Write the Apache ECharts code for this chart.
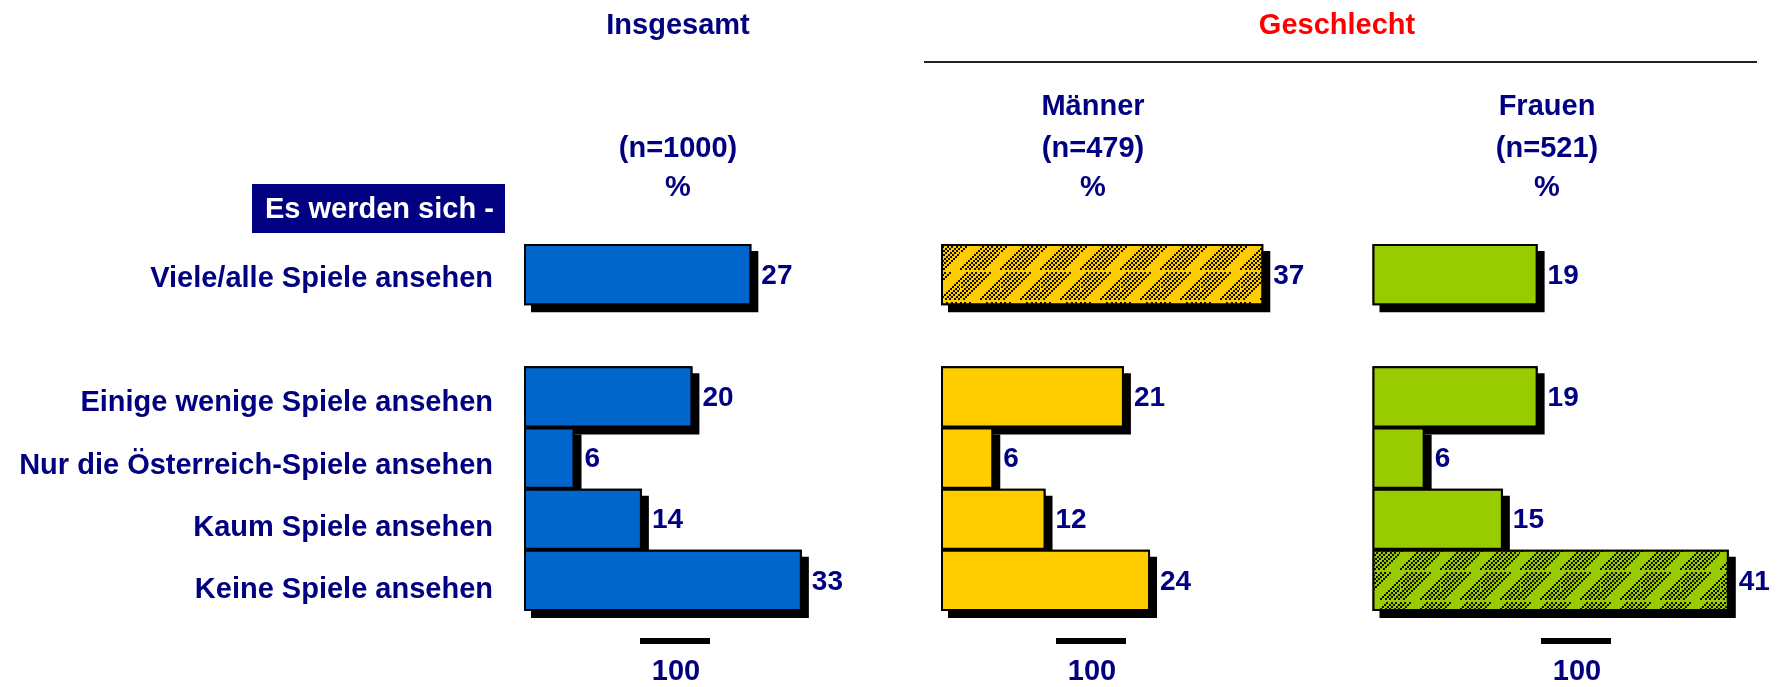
<!DOCTYPE html>
<html>
<head>
<meta charset="utf-8">
<script src="https://cdn.jsdelivr.net/npm/echarts@6/dist/echarts.min.js"></script>
<style>
  html, body { margin: 0; padding: 0; background: #ffffff; }
  #chart { width: 1778px; height: 687px; }
</style>
</head>
<body>
<div id="chart"></div>
<script>
// Answer categories (the empty entry is the spacer row between the first bar and the rest)
const categories = [
  'Viele/alle Spiele ansehen',
  '',
  'Einige wenige Spiele ansehen',
  'Nur die Österreich-Spiele ansehen',
  'Kaum Spiele ansehen',
  'Keine Spiele ansehen'
];

// Percentages per group
const insgesamt = [27, '-', 20, 6, 14, 33];
const maenner   = [37, '-', 21, 6, 12, 24];
const frauen    = [19, '-', 19, 6, 15, 41];

// Rows drawn with a hatched fill, per group
const hatchInsgesamt = [];
const hatchMaenner   = [0];
const hatchFrauen    = [5];

// Header texts
const columnHeads  = ['Insgesamt', 'Männer', 'Frauen'];
const sampleSizes  = ['(n=1000)', '(n=479)', '(n=521)'];
const unitLabel    = '%';
const groupHead    = 'Geschlecht';
const questionHead = 'Es werden sich -';
const scaleLabel   = '100';

const NAVY = '#000080';
const FONT = '"Liberation Sans", Arial, Helvetica, sans-serif';

// Dotted diagonal hatch tile on top of the base colour
function makeHatch(base) {
  const w = 40, h = 60;
  const c = document.createElement('canvas');
  c.width = w; c.height = h;
  const g = c.getContext('2d');
  g.fillStyle = base;
  g.fillRect(0, 0, w, h);
  g.fillStyle = '#141000';
  for (let row = 0; row < 2; row++) {
    const shift = row * 20, y0 = row * 30;
    for (let k = 0; k < 6; k++) {
      for (let t = 0; t < 27; t += 2) {
        const x = ((shift + Math.round(k * 4.6) + t) % w + w) % w;
        const y = y0 + 28 - t;
        g.fillRect(x, y, 2, 2);
      }
    }
  }
  return { image: c, repeat: 'repeat' };
}

const groups = [
  { data: insgesamt, hatch: hatchInsgesamt, color: '#0066CC', left: 524,    max: 40, unit: 8.42 },
  { data: maenner,   hatch: hatchMaenner,   color: '#FFCC00', left: 941,    max: 40, unit: 8.71 },
  { data: frauen,    hatch: hatchFrauen,    color: '#99CC00', left: 1372.5, max: 45, unit: 8.69 }
];

const GRID_TOP = 244, GRID_H = 367;

const grids = [], xAxes = [], yAxes = [], series = [];
groups.forEach((grp, gi) => {
  grids.push({ left: grp.left, top: GRID_TOP, width: grp.max * grp.unit, height: GRID_H, containLabel: false });
  xAxes.push({ gridIndex: gi, type: 'value', min: 0, max: grp.max, show: false });
  yAxes.push({
    gridIndex: gi, type: 'category', data: categories, inverse: true,
    axisLine: { show: false }, axisTick: { show: false }, splitLine: { show: false },
    axisLabel: { show: false }
  });
  // drop shadow under each bar
  series.push({
    type: 'bar', xAxisIndex: gi, yAxisIndex: gi, data: grp.data,
    barCategoryGap: '0%', barGap: '-100%', silent: true, z: 1,
    itemStyle: { color: '#000', shadowColor: '#000', shadowBlur: 0, shadowOffsetX: 7, shadowOffsetY: 7 }
  });
  // coloured bars with values
  series.push({
    type: 'bar', xAxisIndex: gi, yAxisIndex: gi,
    data: grp.data.map((v, i) => grp.hatch.includes(i)
      ? { value: v, itemStyle: { color: makeHatch(grp.color) } }
      : v),
    barCategoryGap: '0%', barGap: '-100%', z: 2,
    itemStyle: { color: grp.color, borderColor: '#000', borderWidth: 2 },
    label: {
      show: true, position: 'right', distance: 10, color: NAVY, offset: [0, 1.5],
      fontFamily: FONT, fontWeight: 'bold', fontSize: 28
    }
  });
});

// Row captions on their own category axis, spaced a little wider than the bars
grids.push({ left: 524, top: 248, width: 1, height: 373, containLabel: false });
xAxes.push({ gridIndex: 3, type: 'value', min: 0, max: 1, show: false });
yAxes.push({
  gridIndex: 3, type: 'category', data: categories, inverse: true,
  axisLine: { show: false }, axisTick: { show: false }, splitLine: { show: false },
  axisLabel: {
    show: true, color: NAVY, fontFamily: FONT, fontWeight: 'bold', fontSize: 29,
    margin: 31, align: 'right', verticalAlign: 'middle'
  }
});

function txt(x, y, text, color, align) {
  return {
    type: 'text', x: x, y: y,
    style: { text: text, fill: color || NAVY, font: 'bold 29px ' + FONT,
             align: align || 'center', verticalAlign: 'middle' }
  };
}

const headX = [678, 1093, 1547];
const scaleX = [675, 1091, 1576];
const graphics = [];
// column titles
graphics.push(txt(headX[0], 26, columnHeads[0]));
graphics.push(txt(headX[1], 107, columnHeads[1]));
graphics.push(txt(headX[2], 107, columnHeads[2]));
headX.forEach((x, i) => {
  graphics.push(txt(x, 149, sampleSizes[i]));
  graphics.push(txt(x, 188, unitLabel));
});
// gender group header with rule
graphics.push(txt(1337, 26, groupHead, '#FF0000'));
graphics.push({ type: 'line', shape: { x1: 924, y1: 62, x2: 1757, y2: 62 },
                style: { stroke: '#222', lineWidth: 2 } });
// question box
graphics.push({ type: 'rect', shape: { x: 252, y: 184, width: 253, height: 49 },
                style: { fill: NAVY } });
graphics.push({ type: 'text', x: 265, y: 210,
                style: { text: questionHead, fill: '#fff', font: 'bold 29px ' + FONT,
                         align: 'left', verticalAlign: 'middle' } });
// scale markers
scaleX.forEach(x => {
  graphics.push({ type: 'rect', shape: { x: x - 35, y: 638, width: 70, height: 6 },
                  style: { fill: '#000' } });
  graphics.push(txt(x + 1, 672, scaleLabel));
});

const chart = echarts.init(document.getElementById('chart'), null, { renderer: 'canvas' });
chart.setOption({
  animation: false,
  backgroundColor: '#ffffff',
  grid: grids,
  xAxis: xAxes,
  yAxis: yAxes,
  series: series,
  graphic: { elements: graphics }
});
</script>
</body>
</html>
